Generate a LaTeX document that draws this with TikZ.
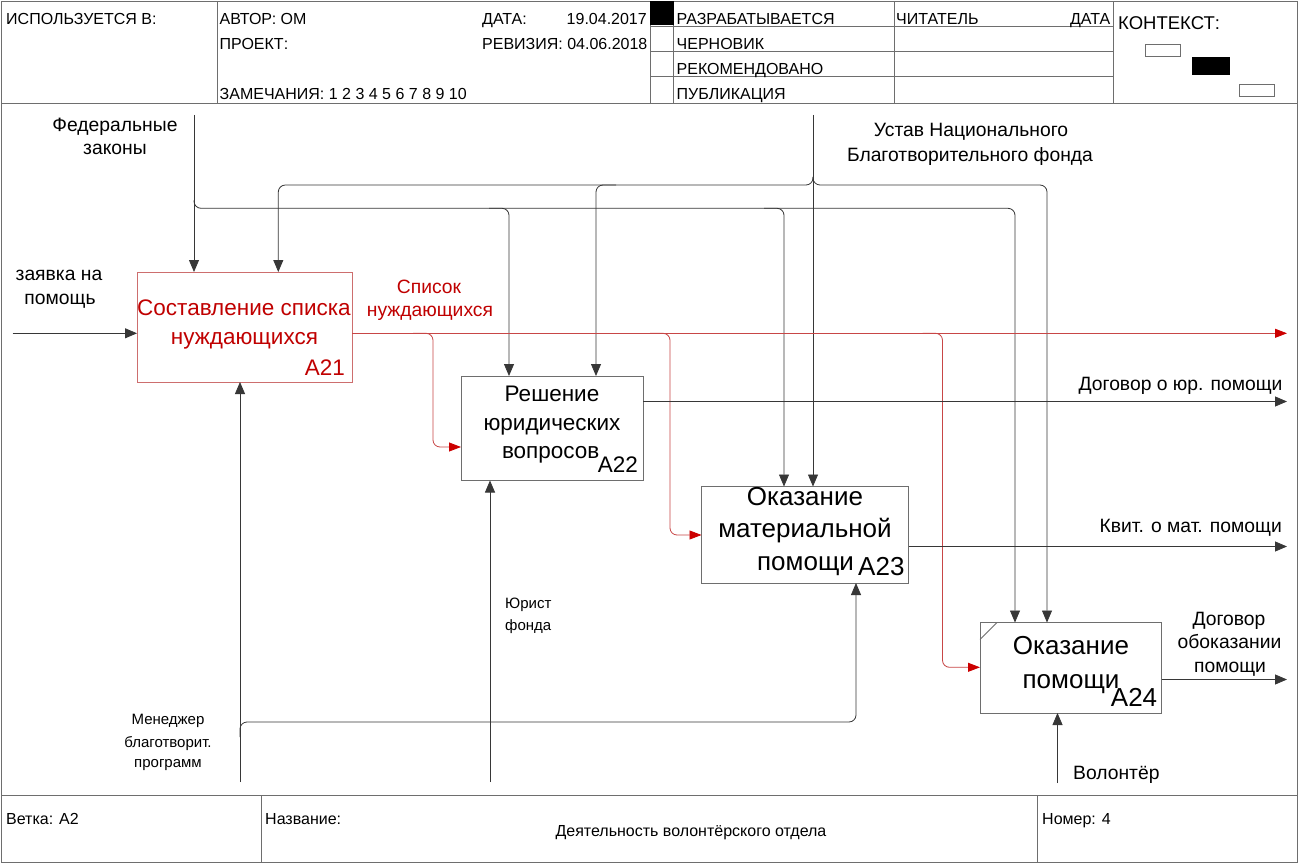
\documentclass[tikz,border=0pt]{standalone}
\usepackage{fontspec}
\setmainfont{Liberation Sans}
\usetikzlibrary{arrows.meta,calc}
\definecolor{txtred}{RGB}{192,0,0}
\definecolor{linered}{RGB}{200,70,70}
\definecolor{tipred}{RGB}{204,0,0}
\definecolor{boxred}{RGB}{205,110,110}
\definecolor{linegray}{RGB}{55,55,55}
\definecolor{framegray}{RGB}{110,110,110}
\begin{document}
\begin{tikzpicture}[x=1pt,y=-1pt,
  frame/.style={draw=framegray,line width=1pt},
  flow/.style={draw=linegray,line width=0.8pt,rounded corners=7pt},
  rflow/.style={draw=linered,line width=0.8pt,rounded corners=7pt},
  arr/.style={-{Triangle[length=12pt,width=10pt]}},
  rarr/.style={-{Triangle[length=12pt,width=9pt,color=tipred]}},
  box/.style={draw=framegray,line width=1pt,anchor=north west,inner sep=0pt,outer sep=0pt},
  hdr/.style={font=\fontsize{16}{19}\selectfont,inner sep=0pt,anchor=base west},
  lbl/.style={font=\fontsize{19.3}{23}\selectfont,inner sep=0pt,anchor=base},
  sml/.style={font=\fontsize{15}{18}\selectfont,inner sep=0pt,anchor=base},
  btxt/.style={font=\fontsize{22.5}{27}\selectfont,inner sep=0pt,anchor=base},
  btxtL/.style={font=\fontsize{26}{31}\selectfont,inner sep=0pt,anchor=base},
]
\useasboundingbox (0,0) rectangle (1299,864);
\fill[white] (0,0) rectangle (1299,864);

% ---------- frame ----------
\draw[frame] (1.5,1.5) rectangle (1297.5,862.5);
\draw[frame] (1.5,103.5) -- (1297.5,103.5);
\foreach \xx in {217.5,650,673.5,894,1113.5}{\draw[frame] (\xx,1.5) -- (\xx,103.5);}
\foreach \yy in {26.5,51.5,77}{\draw[frame] (650,\yy) -- (1113.5,\yy);}
\fill[black] (650,1.5) rectangle (673.5,25.5);
\draw[framegray,line width=0.8pt] (1145,44.5) rectangle (1180.5,56);
\fill[black] (1192,57.5) rectangle (1230,75);
\draw[framegray,line width=0.8pt] (1239,84) rectangle (1274,96.5);
\draw[frame] (1.5,795.5) -- (1297.5,795.5);
\draw[frame] (261,795.5) -- (261,862.5);
\draw[frame] (1037,795.5) -- (1037,862.5);

% ---------- header text ----------
\node[hdr] (h1) at (6,25) {ИСПОЛЬЗУЕТСЯ В:};
\node[hdr] (h2) at (219.5,25) {АВТОР: ОМ};
\node[hdr] (h3) at (219.5,49.5) {ПРОЕКТ:};
\node[hdr] (h4) at (219.5,100) {ЗАМЕЧАНИЯ: 1 2 3 4 5 6 7 8 9 10};
\node[hdr] (h5) at (482,25) {ДАТА:};
\node[hdr,anchor=base east] (h6) at (647,25) {19.04.2017};
\node[hdr] (h7) at (482,49.5) {РЕВИЗИЯ: 04.06.2018};
\node[hdr] (h8) at (676.5,25) {РАЗРАБАТЫВАЕТСЯ};
\node[hdr] (h9) at (676.5,50) {ЧЕРНОВИК};
\node[hdr] (h10) at (676.5,75) {РЕКОМЕНДОВАНО};
\node[hdr] (h11) at (676.5,100) {ПУБЛИКАЦИЯ};
\node[hdr] (h12) at (896,25) {ЧИТАТЕЛЬ};
\node[hdr,anchor=base east] (h13) at (1110.5,25) {ДАТА};
\node[hdr,font=\fontsize{18.5}{22}\selectfont] (h14) at (1118,30) {КОНТЕКСТ:};

% ---------- footer text ----------
\node[hdr] (f1) at (6,824) {Ветка: А2};
\node[hdr] (f2) at (265,824) {Название:};
\node[hdr,anchor=base] (f3) at (691,836) {Деятельность волонтёрского отдела};
\node[hdr] (f4) at (1042,824) {Номер: 4};

% ---------- boxes ----------
\node[box,draw=boxred,minimum width=215pt,minimum height=110pt] (A21) at (137,272) {};
\node[box,minimum width=182pt,minimum height=104.5pt] (A22) at (461,376) {};
\node[box,minimum width=207pt,minimum height=96.5pt] (A23) at (701.5,486.5) {};
\node[box,minimum width=181.5pt,minimum height=90.5pt] (A24) at (980,622.5) {};
\draw[framegray,line width=0.8pt] ($(A24.north west)+(0,17)$) -- ($(A24.north west)+(17,0)$);

\node[btxt,text=txtred] (t21a) at (244,315) {Составление списка};
\node[btxt,text=txtred] (t21b) at (244.5,344.3) {нуждающихся};
\node[btxt,text=txtred,anchor=base east] (n21) at (345,375) {A21};

\node[btxt] (t22a) at (552,401.7) {Решение};
\node[btxt] (t22b) at (552,430) {юридических};
\node[btxt] (t22c) at (550.7,458.3) {вопросов};
\node[btxt,anchor=base west] (n22) at (597.7,472.7) {A22};

\node[btxtL] (t23a) at (805,505.7) {Оказание};
\node[btxtL] (t23b) at (805,537.3) {материальной};
\node[btxtL] (t23c) at (805.5,570) {помощи};
\node[btxtL,anchor=base west] (n23) at (858,575) {A23};

\node[btxtL] (t24a) at (1071,654) {Оказание};
\node[btxtL] (t24b) at (1071,688.3) {помощи};
\node[btxtL,anchor=base west] (n24) at (1110.7,706) {A24};

% ---------- labels ----------
\node[lbl] (fz1) at (115,131.5) {Федеральные};
\node[lbl] (fz2) at (115,155) {законы};
\node[lbl] (zv1) at (59,280) {заявка на};
\node[lbl] (zv2) at (60,304) {помощь};
\node[lbl] (us1) at (971,137) {Устав Национального};
\node[lbl] (us2) at (970,162) {Благотворительного фонда};
\node[lbl,text=txtred] (sp1) at (429,293.3) {Список};
\node[lbl,text=txtred] (sp2) at (430,316.7) {нуждающихся};
\node[lbl,anchor=base east] (dg) at (1282.7,390) {Договор о юр. помощи};
\node[lbl,anchor=base east] (kv) at (1282,532.7) {Квит. о мат. помощи};
\node[lbl] (do1) at (1229,625) {Договор};
\node[lbl] (do2) at (1229.5,648.3) {обоказании};
\node[lbl] (do3) at (1230,672.7) {помощи};
\node[lbl,anchor=base west] (vol) at (1073,779) {Волонтёр};
\node[sml,anchor=base west] (ur1) at (505,608) {Юрист};
\node[sml,anchor=base west] (ur2) at (505,630) {фонда};
\node[sml] (mg1) at (168,724.5) {Менеджер};
\node[sml] (mg2) at (168,747) {благотворит.};
\node[sml] (mg3) at (168,767) {программ};

% ---------- coordinates ----------
\coordinate (fedtop) at (194,115);
\coordinate (ustop) at (813,115);
\coordinate (inL) at (12.5,333.3);
\coordinate (m21) at (240,782);
\coordinate (m22) at (490,782);
\coordinate (m24) at (1057.5,783);
\coordinate (rEnd) at (1287,333.3);
\coordinate (fj) at (194,208.3);
\coordinate (f22) at (509,208.3);
\coordinate (f23) at (784,208.3);
\coordinate (f24) at (1015,208.3);
\coordinate (uj) at (813,185);
\coordinate (u21) at (278.3,185);
\coordinate (u22) at (596,185);
\coordinate (u24) at (1047,185);
\coordinate (r0) at ($(A21.north east)+(0,61.3)$);
\coordinate (rb22) at (433,333.3);
\coordinate (rb23) at (670,333.3);
\coordinate (rb24) at (942.5,333.3);
\coordinate (rc22) at (433,447);
\coordinate (rc23) at (670,535);
\coordinate (rc24) at (942.5,667.3);
\coordinate (o22) at ($(A22.north east)+(0,25.5)$);
\coordinate (o23) at ($(A23.north east)+(0,60)$);
\coordinate (o24) at ($(A24.north east)+(0,57)$);
\coordinate (mj) at (240,722);
\coordinate (mk) at (856,722);

% ---------- controls ----------
\draw[flow,arr] (fedtop) -- (fedtop |- A21.north);
\draw[flow,arr] ($(fj)+(0,-8)$) -- (fj) -- (f24) -- (f24 |- A24.north);
\draw[flow,arr] ($(f22)+(-20,0)$) -- (f22) -- (f22 |- A22.north);
\draw[flow,arr] ($(f23)+(-20,0)$) -- (f23) -- (f23 |- A23.north);
\draw[flow,arr] (ustop) -- (ustop |- A23.north);
\draw[flow,arr] ($(uj)+(0,-8)$) -- (uj) -- (u21) -- (u21 |- A21.north);
\draw[flow,arr] ($(uj)+(0,-8)$) -- (uj) -- (u24) -- (u24 |- A24.north);
\draw[flow,arr] ($(u22)+(20,0)$) -- (u22) -- (u22 |- A22.north);

% ---------- input ----------
\draw[flow,arr] (inL) -- (inL -| A21.west);

% ---------- red output ----------
\draw[rflow,rarr] (r0) -- (rEnd);
\draw[rflow,rarr] ($(rb22)+(-20,0)$) -- (rb22) -- (rc22) -- (rc22 -| A22.west);
\draw[rflow,rarr] ($(rb23)+(-20,0)$) -- (rb23) -- (rc23) -- (rc23 -| A23.west);
\draw[rflow,rarr] ($(rb24)+(-20,0)$) -- (rb24) -- (rc24) -- (rc24 -| A24.west);

% ---------- outputs ----------
\draw[flow,arr] (o22) -- (o22 -| rEnd);
\draw[flow,arr] (o23) -- (o23 -| rEnd);
\draw[flow,arr] (o24) -- (o24 -| rEnd);

% ---------- mechanisms ----------
\draw[flow,arr] (m21) -- (m21 |- A21.south);
\draw[flow,arr] ($(mj)+(0,15)$) -- (mj) -- (mk) -- (mk |- A23.south);
\draw[flow,arr] (m22) -- (m22 |- A22.south);
\draw[flow,arr] (m24) -- (m24 |- A24.south);
\end{tikzpicture}
\end{document}
